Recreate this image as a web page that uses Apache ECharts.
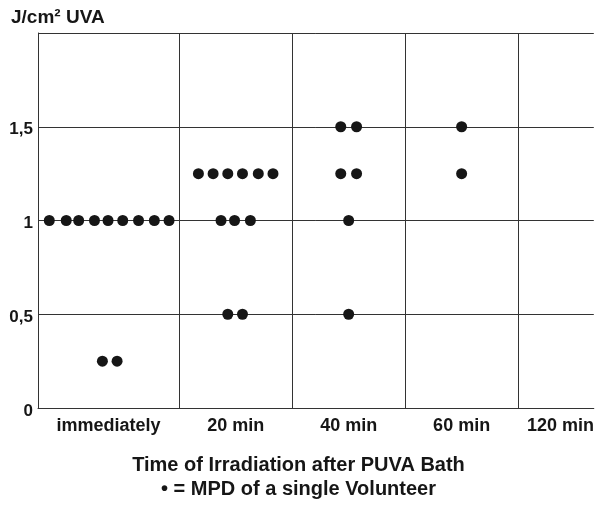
<!DOCTYPE html>
<html>
	<head>
		<meta charset="utf-8">
		<title>MPD after PUVA bath</title>
		<script src="https://cdn.jsdelivr.net/npm/echarts@6/dist/echarts.min.js"></script>
		<style>
			html, body { margin: 0; padding: 0; background: #fff; overflow: hidden; }
		</style>
	</head>
	<body>
		<div id="main" style="width: 597px;height:505px;"></div>
		<script type="text/javascript">
			// time points (column labels) and where their label sits on the x scale
			var timeLabels = ['immediately', '20 min', '40 min', '60 min', '120 min'];
			var labelPos = [0.625, 1.75, 2.75, 3.75, 4.625];
			// column boundaries on the x scale (first column is wider)
			var columnEdges = [1.25, 2.25, 3.25, 4.25];

			// MPD of single volunteers, [x position in column, J/cm² UVA]
			var mpdImmediately = [
				[0.10, 1], [0.25, 1], [0.36, 1], [0.50, 1], [0.62, 1], [0.75, 1], [0.89, 1], [1.03, 1], [1.16, 1],
				[0.57, 0.25], [0.70, 0.25]
			];
			var mpd20 = [
				[1.42, 1.25], [1.55, 1.25], [1.68, 1.25], [1.81, 1.25], [1.95, 1.25], [2.08, 1.25],
				[1.62, 1], [1.74, 1], [1.88, 1],
				[1.68, 0.5], [1.81, 0.5]
			];
			var mpd40 = [
				[2.68, 1.5], [2.82, 1.5],
				[2.68, 1.25], [2.82, 1.25],
				[2.75, 1],
				[2.75, 0.5]
			];
			var mpd60 = [
				[3.75, 1.5],
				[3.75, 1.25]
			];
			var mpd120 = [];

			var yTicks = { '0': '0', '0.5': '0,5', '1': '1', '1.5': '1,5' };

			var myChart = echarts.init(document.getElementById('main'));
			var font = 'Liberation Sans';
			var ink = '#161616';

			function dotSeries(name, data) {
				return {
					name: name,
					type: 'scatter',
					symbol: 'circle',
					symbolSize: 11,
					itemStyle: { color: ink, opacity: 1 },
					data: data,
				};
			}

			var series = [
				dotSeries('immediately', mpdImmediately),
				dotSeries('20 min', mpd20),
				dotSeries('40 min', mpd40),
				dotSeries('60 min', mpd60),
				dotSeries('120 min', mpd120),
			];
			// vertical column separators
			series[0].markLine = {
				silent: true,
				symbol: 'none',
				label: { show: false },
				lineStyle: { color: '#333', width: 1, type: 'solid' },
				data: columnEdges.map(function (v) { return { xAxis: v }; }),
			};

			var option = {
				animation: false,
				title: [{
					text: 'J/cm² UVA',
					left: 6,
					top: 3,
					textStyle: { fontFamily: font, fontSize: 19, fontWeight: 'bold', color: ink },
				}, {
					text: 'Time of Irradiation after PUVA Bath\n• = MPD of a single Volunteer',
					left: 'center',
					top: 448,
					textStyle: { fontFamily: font, fontSize: 20, fontWeight: 'bold', color: ink, lineHeight: 24, align: 'center' },
				}],
				grid: {
					left: 38,
					right: 0,
					top: 33,
					bottom: 97,
				},
				xAxis: {
					type: 'value',
					min: 0,
					max: 4.92,
					interval: 0.125,
					axisLine: { lineStyle: { color: '#333', width: 1 } },
					axisTick: { show: false },
					splitLine: { show: false },
					axisLabel: {
						margin: 9,
						fontFamily: font,
						fontSize: 18,
						fontWeight: 'bold',
						color: ink,
						formatter: function (v) {
							for (var i = 0; i < labelPos.length; i++) {
								if (Math.abs(v - labelPos[i]) < 1e-6) return timeLabels[i];
							}
							return '';
						},
					},
				},
				yAxis: {
					type: 'value',
					min: 0,
					max: 2,
					interval: 0.5,
					axisLine: { show: true, lineStyle: { color: '#333', width: 1 } },
					axisTick: { show: false },
					splitLine: { show: true, lineStyle: { color: '#333', width: 1 } },
					axisLabel: {
						margin: 5,
						color: ink,
						formatter: function (v) {
							var t = yTicks[String(v)];
							return t ? '{t|' + t + '}' : '';
						},
						rich: {
							t: {
								fontFamily: font,
								fontSize: 17,
								fontWeight: 'bold',
								color: ink,
								padding: [6, 0, 0, 0],
							},
						},
					},
				},
				series: series,
			};
			myChart.setOption(option);
		</script>
	</body>
</html>
